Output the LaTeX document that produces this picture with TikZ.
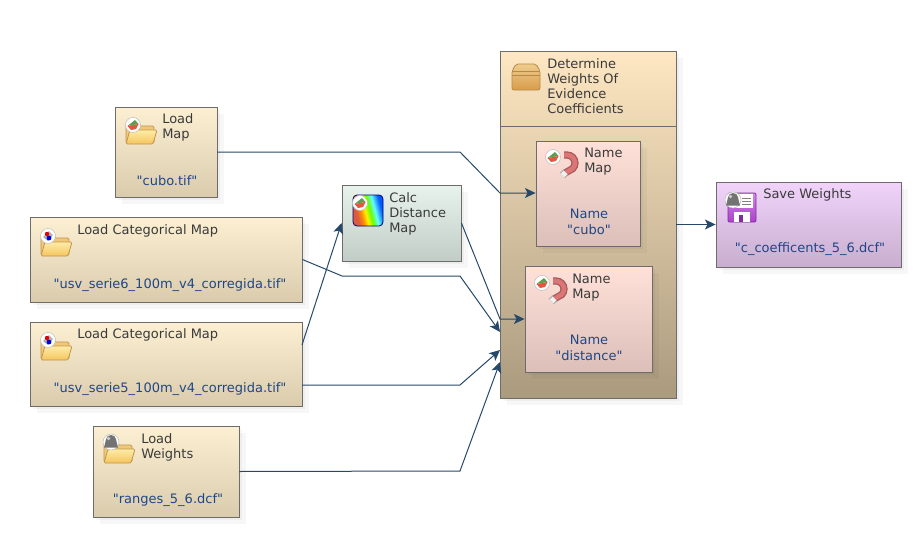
\documentclass[tikz,border=0pt]{standalone}
\usepackage{fontspec}
\setmainfont{DejaVu Sans}
\newfontfamily\valuefont{DejaVu Sans}
\usetikzlibrary{arrows.meta,shadows}

\definecolor{linkblue}{HTML}{26496A}
\definecolor{valueblue}{HTML}{1F4788}
\definecolor{titlegray}{HTML}{3A3A3A}
\definecolor{edgegray}{HTML}{6C6C6C}
\definecolor{loadtop}{HTML}{FDF0D2}
\definecolor{loadbot}{HTML}{DACBAD}
\definecolor{calctop}{HTML}{E9F3ED}
\definecolor{calcbot}{HTML}{C2CDC7}
\definecolor{nametop}{HTML}{FFE1D9}
\definecolor{namebot}{HTML}{DBBFB8}
\definecolor{savetop}{HTML}{F1D3FB}
\definecolor{savebot}{HTML}{C8AECE}
\definecolor{grouptop}{HTML}{FEE7C2}
\definecolor{groupbot}{HTML}{AA9A7E}
\definecolor{foldedge}{HTML}{C2934A}
\definecolor{foldback}{HTML}{F0C878}
\definecolor{foldtop}{HTML}{FDEDA8}
\definecolor{foldbot}{HTML}{F5C45E}
\definecolor{cratetop}{HTML}{F0CC8C}
\definecolor{cratebot}{HTML}{D89C4C}
\definecolor{crateedge}{HTML}{B5894A}
\definecolor{magdark}{HTML}{A85A5A}
\definecolor{maglight}{HTML}{DC7676}
\definecolor{floptop}{HTML}{D48AE8}
\definecolor{flopbot}{HTML}{AC3FCC}
\definecolor{flopedge}{HTML}{7F2F9A}
\definecolor{mapgreen}{HTML}{5E9E4E}
\definecolor{mapred}{HTML}{DC5A40}
\pgfdeclarehorizontalshading{rainbowshade}{100bp}{
  color(0bp)=(mapred); color(30bp)=(mapred); color(38bp)=(orange!90!yellow);
  color(45bp)=(yellow!90!orange); color(53bp)=(green!60!yellow); color(61bp)=(cyan!60!white); color(72bp)=(blue!65!cyan); color(100bp)=(blue!65!cyan)}

\tikzset{
  softshadow/.style={drop shadow={shadow xshift=2.5pt,shadow yshift=-2.5pt,opacity=.035,fill=black},
    drop shadow={shadow xshift=5pt,shadow yshift=-5pt,opacity=.03,fill=black}},
  stepbox/.style={draw=edgegray,line width=.65pt,inner sep=0pt,softshadow},
  loadbox/.style={stepbox,top color=loadtop,bottom color=loadbot},
  calcbox/.style={stepbox,top color=calctop,bottom color=calcbot},
  namebox/.style={stepbox,top color=nametop,bottom color=namebot},
  savebox/.style={stepbox,top color=savetop,bottom color=savebot},
  groupbox/.style={stepbox,top color=grouptop,bottom color=groupbot},
  title/.style={anchor=west,align=left,inner sep=0pt,text=titlegray,font=\fontsize{9.75}{11.25}\selectfont},
  value/.style={align=center,inner sep=0pt,text=valueblue,font=\valuefont\fontsize{9.75}{11.9}\selectfont},
  link/.style={draw=linkblue,line width=.75pt,-{Stealth[length=8pt,width=7.5pt,inset=2pt]}},
  pics/folder/.style={code={
    \draw[draw=foldedge,fill=foldback,line width=.6pt,rounded corners=1pt]
      (-15,10) -- (-15,-10) -- (-4,-10) -- (-1,-7) -- (13,-7) -- (13,10) -- cycle;
    \draw[draw=foldedge,top color=foldtop,bottom color=foldbot,line width=.6pt,rounded corners=1pt]
      (-15,11) -- (-11,-3) -- (16,-3) -- (12,11) -- cycle;}},
  pics/mapbadge/.style={code={
    \fill[white,draw=black!25,line width=.4pt] (0,0) circle (7.5);
    \fill[mapgreen] (-5.5,1) -- (2,-5) -- (5.5,-1) -- cycle;
    \fill[mapred] (-5.5,1) -- (5.5,-1) -- (3,4) -- (-2,5) -- cycle;}},
  pics/catbadge/.style={code={
    \fill[white,draw=black!25,line width=.4pt] (0,0) circle (7.5);
    \fill[black!30] (-5,1) -- (1,-5) -- (5,-1) -- (0,5) -- cycle;
    \fill[red!90!black] (-1,-2) circle (2.2);
    \fill[blue!90!black] (1,2) circle (2.4);}},
  pics/lockbadge/.style={code={
    \fill[white,draw=black!25,line width=.4pt] (0,0) circle (8);
    \fill[black!55] (-7,5.5) .. controls (-5,0) and (-6,-7) .. (0,-7) .. controls (6,-7) and (5,0) .. (7,5.5) -- cycle;
    \fill[black!20] (-2.5,-3.5) circle (1.8);}},
  pics/crate/.style={code={
    \draw[draw=crateedge,top color=cratetop,bottom color=cratebot,line width=.6pt,rounded corners=1.5pt]
      (-14,-6) -- (-10,-13) -- (10,-13) -- (14,-6) -- (14,13) -- (-14,13) -- cycle;
    \draw[crateedge,line width=.6pt] (-14,-6) -- (14,-6) (-14,-2) -- (14,-2);}},
  pics/magnet/.style={code={
    \draw[line width=5.4pt,magdark] (-3,-8) -- (0,-8) arc[start angle=90,end angle=-45,radius=6pt] -- (-2,10);
    \draw[line width=3.4pt,maglight] (-3,-8) -- (0,-8) arc[start angle=90,end angle=-45,radius=6pt] -- (-2,10);
    \draw[line width=5.4pt,black!35] (-1.5,9.5) -- (-4.5,12.5);
    \draw[line width=3.8pt,black!6] (-1.5,9.5) -- (-4.5,12.5);
    \pic at (-14,-6) {mapbadge};}},
  pics/rainbow/.style={code={
    \draw[draw=blue!45!black,line width=.6pt,rounded corners=3pt,shading=rainbowshade,shading angle=15]
      (-15,-15.5) rectangle (15,15.5);
    \pic at (-8,-7.5) {mapbadge};}},
  pics/floppy/.style={code={
    \draw[draw=flopedge,top color=floptop,bottom color=flopbot,line width=.7pt,rounded corners=1pt]
      (-14,-14) rectangle (14,15);
    \fill[white] (-6,-13) rectangle (11,1);
    \draw[black!50,line width=.6pt] (0,-9) -- (9,-9) (0,-6) -- (9,-6) (0,-3) -- (9,-3);
    \fill[white] (-8,5) rectangle (8,15);
    \fill[flopedge] (-3,8) rectangle (1,15);
    \pic at (-9,-7) {lockbadge};}},
}

\begin{document}
\begin{tikzpicture}[x=.75pt,y=-.75pt]
  \useasboundingbox (0,0) rectangle (922,539);

  % boxes
  \node (group)   at (588,224.5) [groupbox,minimum width=132pt,minimum height=260.25pt] {};
  \draw[edgegray,line width=.65pt] (group.west |- 0,126) coordinate (grpleft) -- (group.east |- 0,126) coordinate (grpright);
  \node (cubomap) at (166,152)   [loadbox,minimum width=76.5pt,minimum height=67.5pt] {};
  \node (serie6)  at (166,259.5) [loadbox,minimum width=204pt,minimum height=63.75pt] {};
  \node (serie5)  at (166,364)   [loadbox,minimum width=204pt,minimum height=63pt] {};
  \node (ranges)  at (166,471.5) [loadbox,minimum width=109.5pt,minimum height=68.25pt] {};
  \node (dist)    at (401.5,223) [calcbox,minimum width=89.25pt,minimum height=57pt] {};
  \node (namecubo) at (588,193.5) [namebox,minimum width=78pt,minimum height=78.75pt] {};
  \node (namedist) at (588.5,319) [namebox,minimum width=95.25pt,minimum height=79.5pt] {};
  \node (save)    at (808.5,224.5) [savebox,minimum width=138.75pt,minimum height=63.75pt] {};

  % icons
  \pic at (141,133) {folder};
  \pic at (133,125) {mapbadge};
  \pic at (56,245)  {folder};
  \pic at (48,236)  {catbadge};
  \pic at (56,349)  {folder};
  \pic at (48,340)  {catbadge};
  \pic at (119,452) {folder};
  \pic at (111,442) {lockbadge};
  \pic at (368,210.5) {rainbow};
  \pic at (526,77)  {crate};
  \pic at (567,163) {magnet};
  \pic at (556,289) {magnet};
  \pic at (742,207) {floppy};

  % texts
  \node (t1) at (162,127.5) [title] {Load\\Map};
  \node (v1) at (167,181)   [value] {"cubo.tif"};
  \node (t2) at (77,231)    [title] {Load Categorical Map};
  \node (v2) at (170,285)   [value] {"usv\_serie6\_100m\_v4\_corregida.tif"};
  \node (t3) at (77,335)    [title] {Load Categorical Map};
  \node (v3) at (170,389)   [value] {"usv\_serie5\_100m\_v4\_corregida.tif"};
  \node (t4) at (141,447.5) [title] {Load\\Weights};
  \node (v4) at (168,500)   [value] {"ranges\_5\_6.dcf"};
  \node (t5) at (389,213.5) [title] {Calc\\Distance\\Map};
  \node (t6) at (547,86.5)  [title] {Determine\\Weights Of\\Evidence\\Coefficients};
  \node (t7) at (584,161.5) [title] {Name\\Map};
  \node (v7) at (589,222)   [value] {Name\hspace{4.5pt}\\"cubo"};
  \node (t8) at (572,287.5) [title] {Name\\Map};
  \node (v8) at (589,348)   [value] {Name\hspace{4.5pt}\\"distance"};
  \node (t9) at (763,195)   [title] {Save Weights};
  \node (v9) at (810,249)   [value] {"c\_coefficents\_5\_6.dcf"};

  % connectors
  \coordinate (bend1) at (460,152);
  \coordinate (port1) at (500,193);
  \coordinate (bend2) at (342,276);
  \coordinate (bend3) at (460,276);
  \coordinate (port2) at (500,332);
  \coordinate (out3)  at (302,345);
  \coordinate (out4)  at (302,385);
  \coordinate (bend4) at (460,385);
  \coordinate (port3) at (500,350);
  \coordinate (bend5) at (460,471);
  \coordinate (port4) at (500,362);
  \coordinate (port5) at (500,319);

  \draw[link] (cubomap.east) -- (bend1) -- (port1) -- (namecubo.west |- port1);
  \draw[link] (serie6.east) -- (bend2) -- (bend3) -- (port2);
  \draw[link] (out3) -- (dist.west);
  \draw[link] (out4) -- (bend4) -- (port3);
  \draw[link] (ranges.east) -- (bend5) -- (port4);
  \draw[link] (dist.east) -- (port5) -- (namedist.west |- port5);
  \draw[link] (group.east) -- (save.west);
\end{tikzpicture}
\end{document}
